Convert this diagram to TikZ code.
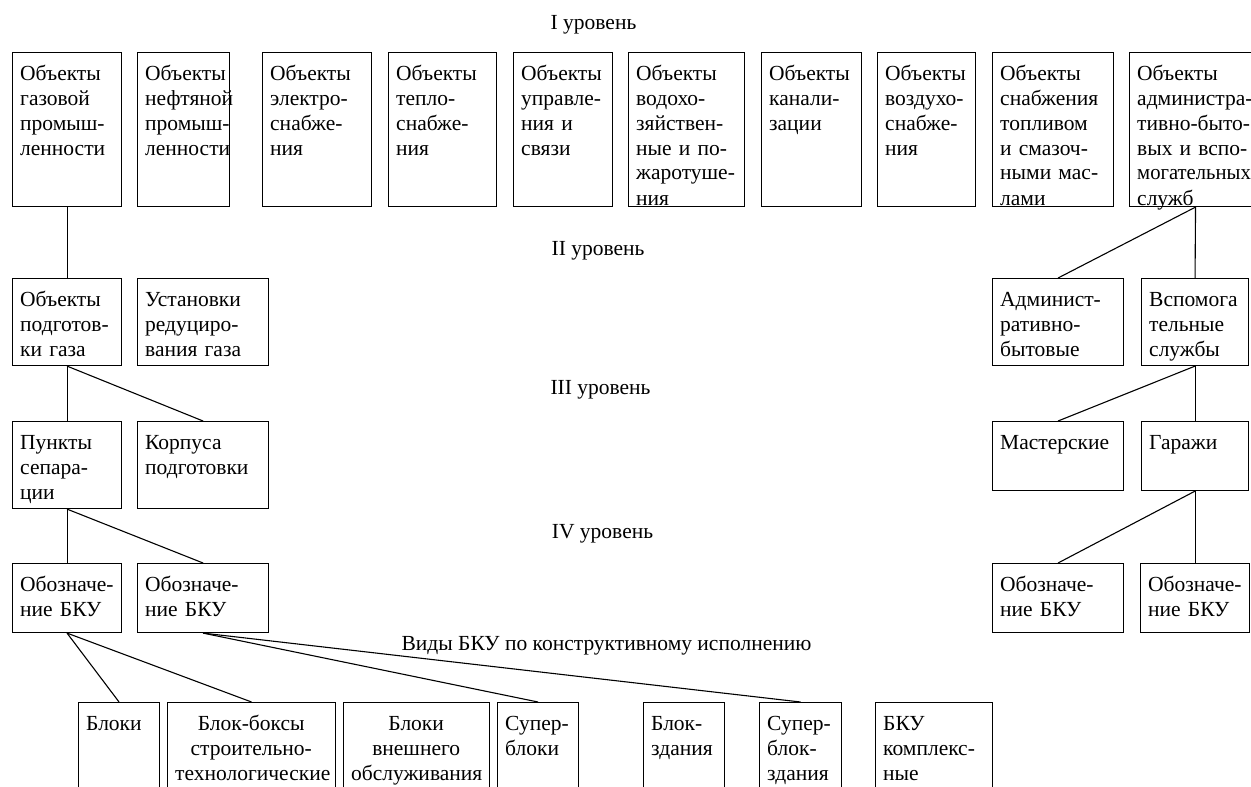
\documentclass[tikz,border=0pt]{standalone}
\usepackage{fontspec}
\setmainfont{Liberation Serif}
\newcommand\cellbox[7]{%
  \pgfmathsetmacro\celltw{#4-16}%
  \node[cellframe, minimum width=#4pt, minimum height=#5pt] (#1) at (#2,#3) {};
  \node[celltext, text width=\celltw pt, align=#6] (#1-text) at ([xshift=8pt,yshift=-28pt]#1.north west) {#7};
}
\begin{document}
\begin{tikzpicture}[x=1pt, y=-1pt,
  cellframe/.style={draw, line width=1.1pt, inner sep=0pt, anchor=north west},
  celltext/.style={inner sep=0pt, anchor=base west,
    font=\fontsize{21.5pt}{25pt}\selectfont,
    execute at begin node={\hyphenpenalty=10000 \exhyphenpenalty=10000 }},
  levellabel/.style={inner sep=0pt, anchor=base, font=\fontsize{21.5pt}{25pt}\selectfont},
  link/.style={line width=1.1pt}]
\useasboundingbox (0,0) rectangle (1251,787);

% level captions
\node[levellabel] (lev1) at (593.5,29) {I уровень};
\node[levellabel] (lev2) at (598,255) {II уровень};
\node[levellabel] (lev3) at (600.5,394) {III уровень};
\node[levellabel] (lev4) at (602.5,538) {IV уровень};
\node[levellabel] (kinds) at (606.5,650) {Виды БКУ по конструктивному исполнению};

% level I
\cellbox{g1}{12}{52}{109}{154}{left}{Объекты\\газовой\\промыш-\\ленности}
\cellbox{g2}{137}{52}{92}{154}{left}{Объекты\\нефтяной\\промыш-\\ленности}
\cellbox{g3}{262}{52}{109}{154}{left}{Объекты\\электро-\\снабже-\\ния}
\cellbox{g4}{388}{52}{108}{154}{left}{Объекты\\тепло-\\снабже-\\ния}
\cellbox{g5}{513}{52}{99}{154}{left}{Объекты\\управле-\\ния и\\связи}
\cellbox{g6}{628}{52}{116}{154}{left}{Объекты\\водохо-\\зяйствен-\\\makebox[101pt][s]{ные и по-}\\жаротуше-\\ния}
\cellbox{g7}{761}{52}{100}{154}{left}{Объекты\\канали-\\зации}
\cellbox{g8}{877}{52}{98}{154}{left}{Объекты\\воздухо-\\снабже-\\ния}
\cellbox{g9}{992}{52}{121}{154}{left}{Объекты\\снабжения\\топливом\\\makebox[98pt][s]{и смазоч-}\\\makebox[98pt][s]{ными мас-}\\лами}
\cellbox{g10}{1129}{52}{132}{154}{left}{Объекты\\администра-\\тивно-быто-\\\makebox[112pt][s]{вых и вспо-}\\\scalebox{0.96}[1]{могательных}\\служб}

% level II
\cellbox{l2a}{12}{278}{109}{87}{left}{Объекты\\подготов-\\ки газа}
\cellbox{l2b}{137}{278}{131}{87}{left}{Установки\\редуциро-\\вания газа}
\cellbox{r2a}{992}{278}{131}{87}{left}{Админист-\\ративно-\\бытовые}
\cellbox{r2b}{1141}{278}{107}{87}{left}{Вспомога\\тельные\\службы}

% level III
\cellbox{l3a}{12}{421}{109}{87}{left}{Пункты\\сепара-\\ции}
\cellbox{l3b}{137}{421}{131}{87}{left}{Корпуса\\подготовки}
\cellbox{r3a}{992}{421}{131}{69}{left}{Мастерские}
\cellbox{r3b}{1141}{421}{107}{69}{left}{Гаражи}

% level IV
\cellbox{l4a}{12}{563}{109}{69}{left}{Обозначе-\\ние БКУ}
\cellbox{l4b}{137}{563}{131}{69}{left}{Обозначе-\\ние БКУ}
\cellbox{r4a}{992}{563}{131}{69}{left}{Обозначе-\\ние БКУ}
\cellbox{r4b}{1140}{563}{109}{69}{left}{Обозначе-\\ние БКУ}

% kinds of units by design
\cellbox{b1}{78}{702}{81}{100}{left}{Блоки}
\cellbox{b2}{167}{702}{168}{100}{center}{Блок-боксы\\строительно-\\технологические}
\cellbox{b3}{343}{702}{146}{100}{center}{Блоки\\внешнего\\обслуживания}
\cellbox{b4}{497}{702}{81}{100}{left}{Супер-\\блоки}
\cellbox{b5}{643}{702}{81}{100}{left}{Блок-\\здания}
\cellbox{b6}{759}{702}{82}{100}{left}{Супер-\\блок-\\здания}
\cellbox{b7}{875}{702}{117}{100}{left}{БКУ\\комплекс-\\ные}

% connectors
\draw[link] (g1.south) -- (l2a.north);
\draw[link] (l2a.south) -- (l3a.north);
\draw[link] (l2a.south) -- (l3b.north);
\draw[link] (l3a.south) -- (l4a.north);
\draw[link] (l3a.south) -- (l4b.north);
\draw[link] (l4a.south) -- (b1.north);
\draw[link] (l4a.south) -- (b2.north);
\draw[link] (l4b.south) -- (b4.north);
\draw[link] (l4b.south) -- (b6.north);
\draw[link] (g10.south) -- (r2a.north);
\draw[link] (g10.south) -- (r2b.north);
\draw[link] (r2b.south) -- (r3a.north);
\draw[link] (r2b.south) -- (r3b.north);
\draw[link] (r3b.south) -- (r4a.north);
\draw[link] (r3b.south) -- (r4b.north);
\end{tikzpicture}
\end{document}
